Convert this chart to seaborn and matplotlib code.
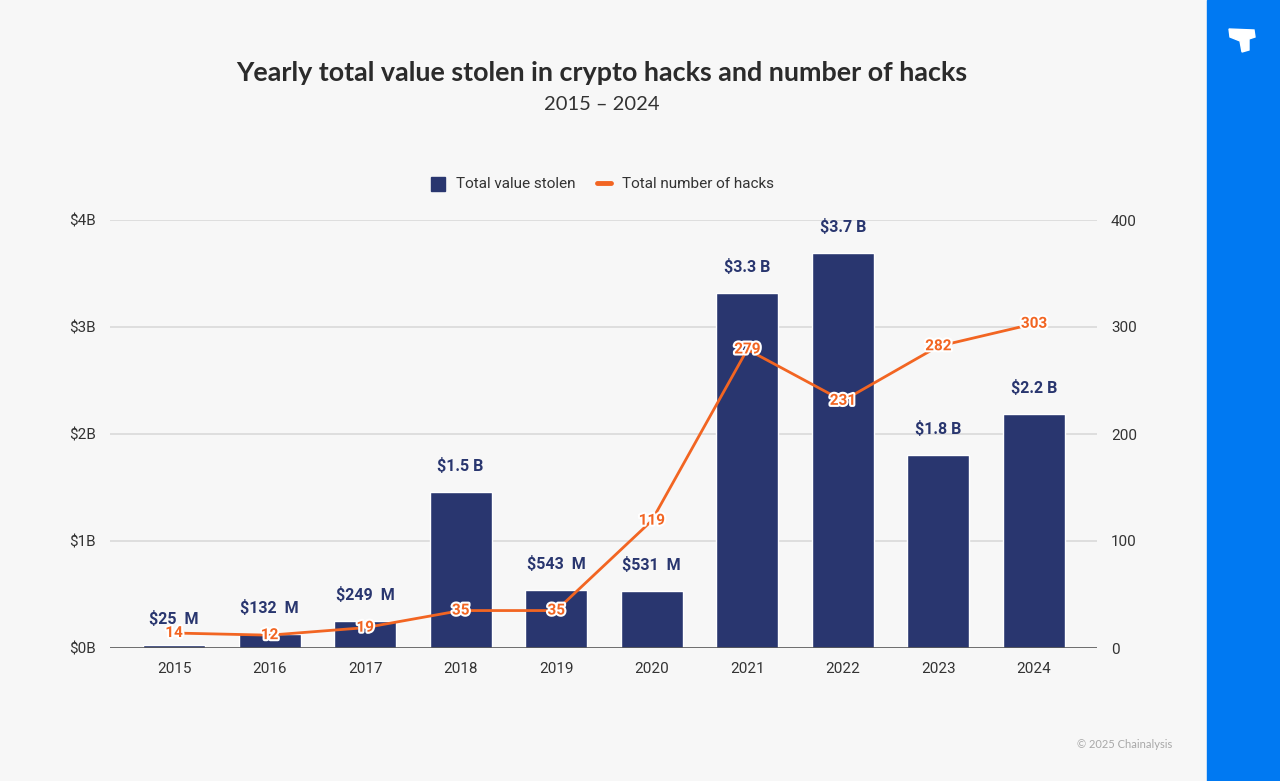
import numpy as np
import pandas as pd
import matplotlib
matplotlib.use("Agg")
import matplotlib.pyplot as plt
import matplotlib.patheffects as pe
from matplotlib.patches import Rectangle, Polygon
import seaborn as sns

years = ["2015", "2016", "2017", "2018", "2019", "2020", "2021", "2022", "2023", "2024"]
value_stolen_b = [0.025, 0.132, 0.249, 1.46, 0.543, 0.531, 3.32, 3.69, 1.80, 2.19]
value_labels = ["$25  M", "$132  M", "$249  M", "$1.5 B", "$543  M", "$531  M",
                "$3.3 B", "$3.7 B", "$1.8 B", "$2.2 B"]
num_hacks = [14, 12, 19, 35, 35, 119, 279, 231, 282, 303]
left_ticks = [0, 1, 2, 3, 4]
left_tick_labels = ["$0B", "$1B", "$2B", "$3B", "$4B"]
right_ticks = [0, 100, 200, 300, 400]

BG = "#F7F7F7"
NAVY = "#29366F"
ORANGE = "#F26522"
GRID = "#DADADA"
TXT = "#333333"

sns.set_theme(style="white")
plt.rcParams["font.family"] = ["Roboto", "DejaVu Sans"]

fig = plt.figure(figsize=(12.8, 7.81), dpi=100)
fig.patch.set_facecolor(BG)
ax = fig.add_axes([110/1280, 1-648/781, (1097-110)/1280, (648-220)/781])
ax.set_facecolor(BG)

df = pd.DataFrame({"year": years, "value": value_stolen_b, "hacks": num_hacks})

for t in left_ticks[1:]:
    ax.axhline(t, color=GRID, lw=1.2, zorder=0)

sns.barplot(data=df, x="year", y="value", color=NAVY, width=0.65, saturation=1,
            ax=ax, zorder=2)
ax.axhline(0, color="#555555", lw=1.2, zorder=3)
ax.set_xlim(-0.67, 9.66)
ax.set_ylim(0, 4)
ax.set_yticks(left_ticks)
ax.set_yticklabels(left_tick_labels)
ax.set_xlabel("")
ax.set_ylabel("")
ax.tick_params(axis="both", length=0, labelsize=11, colors=TXT, pad=10)
for s in ax.spines.values():
    s.set_visible(False)

for i, (v, lab) in enumerate(zip(value_stolen_b, value_labels)):
    ax.annotate(lab, (i, v), xytext=(0, 13), textcoords="offset points",
                ha="center", va="bottom", fontsize=11.5, fontweight="bold",
                color=NAVY, zorder=5)

ax2 = ax.twinx()
sns.lineplot(x=np.arange(len(years)), y=num_hacks, color=ORANGE, lw=2.0, ax=ax2,
             zorder=4)
ax2.set_ylim(0, 400)
ax2.set_yticks(right_ticks)
ax2.set_yticklabels([str(t) for t in right_ticks])
ax2.tick_params(axis="y", length=0, labelsize=11, colors=TXT, pad=10)
ax2.set_xlim(-0.67, 9.66)
for s in ax2.spines.values():
    s.set_visible(False)
for i, h in enumerate(num_hacks):
    ax2.text(i, h, str(h), ha="center", va="center", fontsize=11,
             fontweight="bold", color=ORANGE, zorder=6,
             path_effects=[pe.withStroke(linewidth=3, foreground="white")])

# Title and subtitle
fig.text(602/1280, 1-73/781, "Yearly total value stolen in crypto hacks and number of hacks",
         ha="center", va="center", fontsize=19.4, fontweight="bold", color="#2B2B2B",
         family=["Lato", "DejaVu Sans"])
fig.text(602/1280, 1-104/781, "2015 – 2024", ha="center", va="center",
         fontsize=14.5, color="#333333", family=["Lato", "DejaVu Sans"])

# Legend
fig.patches.append(Rectangle((431/1280, 1-191/781), 14/1280, 14/781,
                             transform=fig.transFigure, color=NAVY))
fig.text(456/1280, 1-184/781, "Total value stolen", ha="left", va="center",
         fontsize=11, color=TXT)
fig.lines.append(plt.Line2D([597/1280, 611/1280], [1-183/781, 1-183/781],
                            transform=fig.transFigure, color=ORANGE, lw=3.5))
fig.text(622/1280, 1-184/781, "Total number of hacks", ha="left", va="center",
         fontsize=11, color=TXT)

# Footer
fig.text(1172/1280, 1-744/781, "© 2025 Chainalysis", ha="right", va="center",
         fontsize=8, color="#A8A8A8", family=["Lato", "DejaVu Sans"])

# Right blue strip with logo
fig.patches.append(Rectangle((1207/1280, 0), 73/1280, 1, transform=fig.transFigure,
                             color="#0079F2", zorder=0))
logo = [(1229, 29), (1254, 30), (1255, 37), (1249, 39), (1249, 50), (1242, 52),
        (1240, 41), (1230, 37)]
fig.patches.append(Polygon([(x/1280, 1-y/781) for x, y in logo], closed=True,
                           transform=fig.transFigure, color="white", zorder=1))

fig.savefig("out.png", dpi=100, facecolor=BG)
